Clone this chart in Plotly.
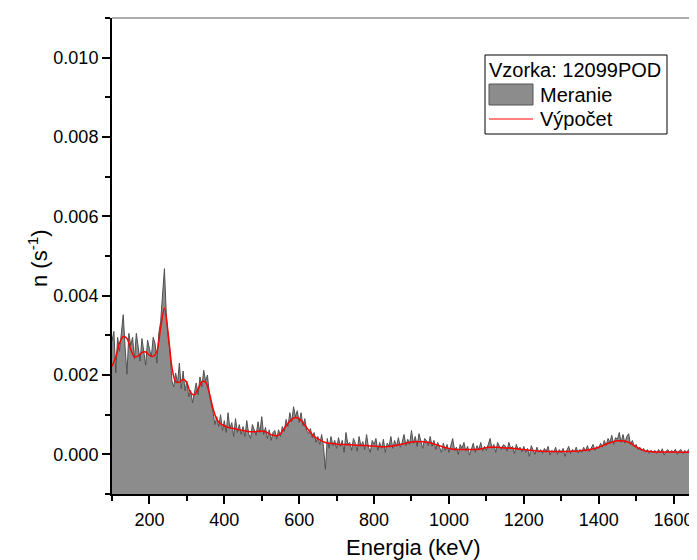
import plotly.graph_objects as go

# ---- data -------------------------------------------------------------
# measured spectrum, 5 keV channels from 100 keV to 1700 keV (n in s^-1)
energia_meranie = list(range(100, 1701, 5))
meranie = [
    0.00285, 0.00310, 0.00205, 0.00295, 0.00260, 0.00315, 0.00352, 0.00270, 0.00202, 0.00305,
    0.00275, 0.00295, 0.00240, 0.00305, 0.00265, 0.00235, 0.00292, 0.00260, 0.00225, 0.00288,
    0.00270, 0.00245, 0.00295, 0.00280, 0.00230, 0.00305, 0.00335, 0.00400, 0.00468, 0.00355,
    0.00295, 0.00260, 0.00185, 0.00170, 0.00205, 0.00180, 0.00230, 0.00165, 0.00210, 0.00160,
    0.00185, 0.00145, 0.00162, 0.00130, 0.00155, 0.00180, 0.00150, 0.00195, 0.00170, 0.00212,
    0.00185, 0.00200, 0.00150, 0.00130, 0.00105, 0.00075, 0.00095, 0.00070, 0.00100, 0.00060,
    0.00085, 0.00055, 0.00105, 0.00065, 0.00080, 0.00045, 0.00090, 0.00055, 0.00075, 0.00050,
    0.00070, 0.00045, 0.00085, 0.00052, 0.00040, 0.00075, 0.00060, 0.00048, 0.00082, 0.00055,
    0.00095, 0.00050, 0.00068, 0.00040, 0.00062, 0.00035, 0.00055, 0.00060, 0.00038, 0.00062,
    0.00045, 0.00070, 0.00058, 0.00088, 0.00070, 0.00105, 0.00082, 0.00120, 0.00095, 0.00110,
    0.00080, 0.00105, 0.00072, 0.00090, 0.00060, 0.00052, 0.00065, 0.00042, 0.00055, 0.00030,
    0.00045, 0.00025, 0.00050, 0.00020, -0.00038, 0.00040, 0.00015, 0.00045, 0.00022, 0.00035,
    0.00015, 0.00042, 0.00020, 0.00035, 0.00005, 0.00055, 0.00025, 0.00030, 0.00010, 0.00040,
    0.00028, 0.00008, 0.00045, 0.00020, 0.00032, 0.00012, 0.00050, 0.00018, 0.00005, 0.00035,
    0.00025, 0.00040, 0.00010, 0.00030, 0.00015, 0.00038, 0.00005, 0.00028, 0.00020, 0.00045,
    0.00015, 0.00035, 0.00020, 0.00042, 0.00018, 0.00030, 0.00050, 0.00022, 0.00038, 0.00025,
    0.00060, 0.00028, 0.00045, 0.00020, 0.00052, 0.00030, 0.00015, 0.00040, 0.00035, 0.00022,
    0.00045, 0.00020, 0.00035, 0.00012, 0.00030, 0.00018, 0.00005, 0.00028, 0.00010, 0.00025,
    0.00005, 0.00022, 0.00040, 0.00010, 0.00018, 0.00000, 0.00025, 0.00015, 0.00030, 0.00008,
    0.00020, -0.00002, 0.00015, 0.00028, 0.00005, 0.00022, 0.00012, 0.00030, 0.00008, 0.00020,
    0.00010, 0.00028, 0.00040, 0.00015, 0.00025, 0.00005, 0.00030, 0.00020, 0.00012, 0.00024,
    0.00022, 0.00008, 0.00030, 0.00015, 0.00020, 0.00002, 0.00025, 0.00012, 0.00018, 0.00006,
    0.00020, 0.00005, 0.00015, -0.00005, 0.00022, 0.00010, 0.00000, 0.00018, 0.00005, 0.00012,
    0.00002, 0.00015, 0.00008, 0.00020, -0.00002, 0.00010, 0.00005, 0.00018, 0.00000, 0.00012,
    0.00004, 0.00015, -0.00005, 0.00010, 0.00020, 0.00002, 0.00012, 0.00006, 0.00018, 0.00003,
    0.00012, 0.00005, 0.00018, 0.00008, 0.00022, 0.00006, 0.00015, 0.00025, 0.00010, 0.00020,
    0.00015, 0.00028, 0.00018, 0.00035, 0.00022, 0.00040, 0.00030, 0.00048, 0.00025, 0.00042,
    0.00038, 0.00055, 0.00030, 0.00050, 0.00028, 0.00045, 0.00052, 0.00025, 0.00035, 0.00020,
    0.00025, 0.00012, 0.00018, 0.00008, 0.00015, 0.00005, 0.00012, 0.00002, 0.00010, 0.00004,
    0.00010, 0.00002, 0.00012, 0.00005, 0.00014, -0.00002, 0.00008, 0.00012, 0.00003, 0.00010,
    0.00005, 0.00013, 0.00000, 0.00009, 0.00012, 0.00002, 0.00010, 0.00004, 0.00012, 0.00006,
    0.00008, 0.00002, 0.00011, 0.00005, 0.00013, -0.00001, 0.00009, 0.00005, 0.00011, 0.00004,
    0.00008,
]

# fitted (computed) curve, 10 keV steps from 100 keV to 1700 keV
energia_vypocet = list(range(100, 1701, 10))
vypocet = [
    0.00222, 0.00245, 0.00280, 0.00297, 0.00292, 0.00265, 0.00246, 0.00248, 0.00257, 0.00258,
    0.00250, 0.00247, 0.00260, 0.00320, 0.00369, 0.00305, 0.00220, 0.00183, 0.00182, 0.00189,
    0.00180, 0.00155, 0.00150, 0.00165, 0.00183, 0.00182, 0.00155, 0.00115, 0.00088, 0.00077,
    0.00072, 0.00068, 0.00066, 0.00064, 0.00062, 0.00060, 0.00058, 0.00057, 0.00057, 0.00058,
    0.00059, 0.00057, 0.00052, 0.00048, 0.00047, 0.00052, 0.00065, 0.00078, 0.00088, 0.00093,
    0.00090, 0.00080, 0.00067, 0.00055, 0.00045, 0.00039, 0.00034, 0.00030, 0.00028, 0.00027,
    0.00026, 0.00025, 0.00025, 0.00024, 0.00024, 0.00023, 0.00023, 0.00022, 0.00022, 0.00021,
    0.00021, 0.00020, 0.00019, 0.00019, 0.00020, 0.00021, 0.00023, 0.00025, 0.00027, 0.00029,
    0.00031, 0.00032, 0.00032, 0.00032, 0.00031, 0.00029, 0.00026, 0.00023, 0.00020, 0.00017,
    0.00015, 0.00013, 0.00012, 0.00012, 0.00012, 0.00012, 0.00012, 0.00012, 0.00013, 0.00015,
    0.00017, 0.00018, 0.00018, 0.00018, 0.00017, 0.00016, 0.00016, 0.00015, 0.00014, 0.00013,
    0.00012, 0.00011, 0.00010, 0.00009, 0.00008, 0.00008, 0.00007, 0.00007, 0.00007, 0.00007,
    0.00007, 0.00007, 0.00007, 0.00008, 0.00008, 0.00009, 0.00010, 0.00011, 0.00013, 0.00015,
    0.00018, 0.00022, 0.00026, 0.00029, 0.00032, 0.00034, 0.00034, 0.00033, 0.00030, 0.00025,
    0.00019, 0.00014, 0.00010, 0.00008, 0.00007, 0.00006, 0.00006, 0.00006, 0.00006, 0.00006,
    0.00006, 0.00006, 0.00005, 0.00005, 0.00005, 0.00005, 0.00005, 0.00005, 0.00005, 0.00005,
    0.00005,
]

x_ticks = [200, 400, 600, 800, 1000, 1200, 1400, 1600]
y_ticks = [0.000, 0.002, 0.004, 0.006, 0.008, 0.010]
legend_title = "Vzorka: 12099POD"
legend_names = ["Meranie", "Výpočet"]

# ---- layout constants ---------------------------------------------------
W, H = 697, 560
L, R, T, B = 104, 0, 10, 74
X_RANGE = [100, 1684]
Y_MIN, Y_MAX = -0.001, 0.011
FONT = "Liberation Sans, Arial, sans-serif"
FILL = "rgb(140,140,140)"
EDGE = "rgb(80,80,80)"
RED = "rgb(255,0,0)"

pw = W - L - R
ph = H - T - B


def px_x(px):
    return (px - L) / pw


def px_y(py):
    return (H - B - py) / ph


fig = go.Figure()

# baseline at the bottom of the axis, so the fill reaches the axis
fig.add_trace(go.Scatter(x=[X_RANGE[0], 1700], y=[Y_MIN, Y_MIN], mode="lines",
                         line=dict(width=0, color=FILL), showlegend=False,
                         hoverinfo="skip"))
fig.add_trace(go.Scatter(x=energia_meranie, y=meranie, mode="lines",
                         fill="tonexty", fillcolor=FILL,
                         line=dict(color=EDGE, width=1),
                         name=legend_names[0], showlegend=False))
fig.add_trace(go.Scatter(x=energia_vypocet, y=vypocet, mode="lines",
                         line=dict(color=RED, width=1.5, shape="spline", smoothing=0.8),
                         name=legend_names[1], showlegend=False))

axis_common = dict(
    showgrid=False, zeroline=False, showline=True, linecolor="black", linewidth=2,
    ticks="outside", ticklen=8, tickwidth=1.5, tickcolor="black",
    tickfont=dict(family=FONT, size=18, color="black"),
)
fig.update_xaxes(range=X_RANGE, tickvals=x_ticks, **axis_common,
                 minor=dict(dtick=100, tick0=0, ticks="outside", ticklen=5,
                            tickwidth=1.5, tickcolor="black"))
fig.update_yaxes(range=[Y_MIN, Y_MAX], tickvals=y_ticks, tickformat=".3f", **axis_common,
                 minor=dict(dtick=0.001, tick0=0, ticks="outside", ticklen=5,
                            tickwidth=1.5, tickcolor="black"))

shapes = [
    # top frame line
    dict(type="line", xref="paper", yref="paper", x0=0, x1=1, y0=1, y1=1,
         line=dict(color="rgb(90,90,90)", width=1)),
    # legend box
    dict(type="rect", xref="paper", yref="paper",
         x0=px_x(477), x1=px_x(659), y0=px_y(126), y1=px_y(47),
         line=dict(color="black", width=1), fillcolor="white"),
    # legend swatch for measurement
    dict(type="rect", xref="paper", yref="paper",
         x0=px_x(481), x1=px_x(525), y0=px_y(97), y1=px_y(76),
         line=dict(color="rgb(85,85,85)", width=1), fillcolor=FILL),
    # legend line for fit
    dict(type="line", xref="paper", yref="paper",
         x0=px_x(481), x1=px_x(525), y0=px_y(111), y1=px_y(111),
         line=dict(color=RED, width=1)),
]

annotations = [
    dict(text=legend_title, xref="paper", yref="paper", x=px_x(479), y=px_y(62),
         xanchor="left", yanchor="middle", showarrow=False,
         font=dict(family=FONT, size=20, color="black")),
    dict(text=legend_names[0], xref="paper", yref="paper", x=px_x(530), y=px_y(87),
         xanchor="left", yanchor="middle", showarrow=False,
         font=dict(family=FONT, size=20, color="black")),
    dict(text=legend_names[1], xref="paper", yref="paper", x=px_x(530), y=px_y(111),
         xanchor="left", yanchor="middle", showarrow=False,
         font=dict(family=FONT, size=20, color="black")),
    dict(text="Energia (keV)", xref="paper", yref="paper", x=px_x(405), y=px_y(539),
         xanchor="center", yanchor="middle", showarrow=False,
         font=dict(family=FONT, size=22, color="black")),
    dict(text="n (s<sup>-1</sup>)", xref="paper", yref="paper", x=px_x(30), y=px_y(250),
         xanchor="center", yanchor="middle", showarrow=False, textangle=-90,
         font=dict(family=FONT, size=22, color="black")),
]

fig.update_layout(
    width=W, height=H, margin=dict(l=L, r=R, t=T, b=B, pad=0),
    plot_bgcolor="white", paper_bgcolor="white",
    showlegend=False, shapes=shapes, annotations=annotations,
    font=dict(family=FONT, color="black"),
)

fig.write_html("out.html")
